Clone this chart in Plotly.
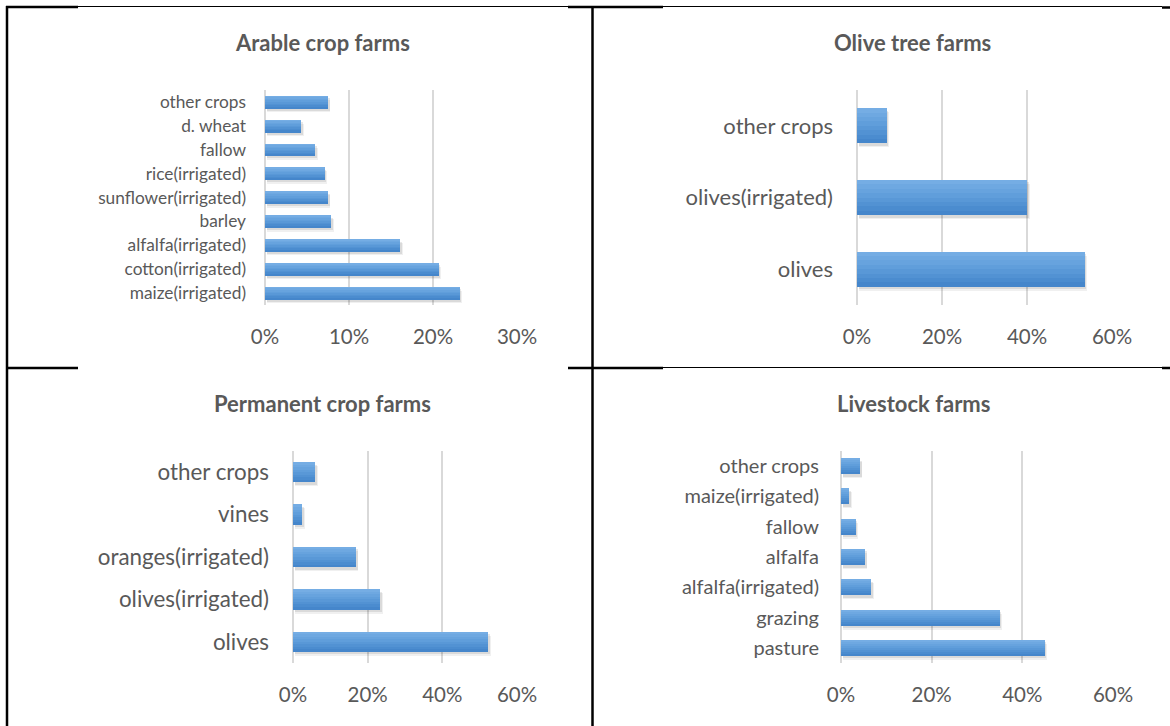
import plotly.graph_objects as go

# ---- data (categories listed bottom to top, values in %) ----
arable_cats = ["maize(irrigated)", "cotton(irrigated)", "alfalfa(irrigated)", "barley",
               "sunflower(irrigated)", "rice(irrigated)", "fallow", "d. wheat", "other crops"]
arable_vals = [23.2, 20.7, 16.1, 7.9, 7.5, 7.1, 6.0, 4.3, 7.5]
arable_ticks = [0, 10, 20, 30]
arable_ticktext = ["0%", "10%", "20%", "30%"]

olive_cats = ["olives", "olives(irrigated)", "other crops"]
olive_vals = [53.6, 40.1, 7.0]

perm_cats = ["olives", "olives(irrigated)", "oranges(irrigated)", "vines", "other crops"]
perm_vals = [52.3, 23.4, 16.9, 2.5, 6.0]

live_cats = ["pasture", "grazing", "alfalfa(irrigated)", "alfalfa", "fallow",
             "maize(irrigated)", "other crops"]
live_vals = [44.9, 35.0, 6.7, 5.3, 3.3, 1.8, 4.2]

wide_ticks = [0, 20, 40, 60]
wide_ticktext = ["0%", "20%", "40%", "60%"]

W, H = 1170, 726
FONT = "Lato"
GREY = "#595959"
GRID = "#d9d9d9"


def px(x):
    return x / W


def py(y):
    return 1 - y / H


# vertical gradient of the bar fill, top (light) to bottom (dark)
BANDS = ["#75ade4", "#6ea8e1", "#67a3de", "#609edb", "#5998d7",
         "#5292d3", "#4b8ccf", "#4586cb"]

panels = [
    dict(title="Arable crop farms", cats=arable_cats, vals=arable_vals,
         ticks=arable_ticks, ticktext=arable_ticktext, xr=[0, 30],
         x0=265, x1=517, y0=90, y1=305, cat_size=17.3, cat_gap=18, width=0.52,
         tx=322.5, ty=43),
    dict(title="Olive tree farms", cats=olive_cats, vals=olive_vals,
         ticks=wide_ticks, ticktext=wide_ticktext, xr=[0, 60],
         x0=857, x1=1112, y0=90, y1=305, cat_size=22, cat_gap=23, width=0.49,
         tx=912.5, ty=43),
    dict(title="Permanent crop farms", cats=perm_cats, vals=perm_vals,
         ticks=wide_ticks, ticktext=wide_ticktext, xr=[0, 60],
         x0=293, x1=517, y0=451, y1=663, cat_size=22.4, cat_gap=23, width=0.48,
         tx=322.5, ty=403),
    dict(title="Livestock farms", cats=live_cats, vals=live_vals,
         ticks=wide_ticks, ticktext=wide_ticktext, xr=[0, 60],
         x0=841, x1=1113, y0=451, y1=663, cat_size=20, cat_gap=21, width=0.53,
         tx=913.5, ty=403),
]

fig = go.Figure()
annotations = []

for i, p in enumerate(panels, start=1):
    xa = "x" if i == 1 else f"x{i}"
    ya = "y" if i == 1 else f"y{i}"
    w = p["width"]
    n = len(p["cats"])
    unit_px = (p["y1"] - p["y0"]) / n          # pixels per category
    xunit_px = (p["x1"] - p["x0"]) / (p["xr"][1] - p["xr"][0])

    # soft drop shadow below / right of each bar
    for shift, alpha in [(4.0, 0.06), (2.5, 0.09)]:
        fig.add_trace(go.Bar(
            y=p["cats"], x=p["vals"], base=shift * 0.6 / xunit_px, orientation="h",
            width=w, offset=-w / 2 - shift / unit_px,
            marker=dict(color=f"rgba(0,0,0,{alpha})", line=dict(width=0)),
            xaxis=xa, yaxis=ya, showlegend=False, hoverinfo="skip"))

    # gradient bar: each layer covers from its top edge down to the bar bottom
    nb = len(BANDS)
    for k, col in enumerate(BANDS):
        fig.add_trace(go.Bar(
            y=p["cats"], x=p["vals"], orientation="h",
            width=w * (nb - k) / nb, offset=-w / 2,
            marker=dict(color=col, line=dict(width=0)),
            xaxis=xa, yaxis=ya, showlegend=False,
            hovertemplate="%{y}: %{x:.1f}%<extra></extra>"))

    fig.layout[f"xaxis{'' if i == 1 else i}"] = dict(
        domain=[px(p["x0"]), px(p["x1"])], anchor=ya, range=p["xr"],
        tickvals=p["ticks"], ticktext=p["ticktext"],
        showgrid=True, gridcolor=GRID, gridwidth=1.5,
        zeroline=True, zerolinecolor=GRID, zerolinewidth=1.5,
        showline=False, ticks="", ticklabelstandoff=17, automargin=False,
        tickfont=dict(family=FONT, size=20.5, color=GREY), fixedrange=True)
    fig.layout[f"yaxis{'' if i == 1 else i}"] = dict(
        domain=[py(p["y1"]), py(p["y0"])], anchor=xa, type="category",
        categoryorder="array", categoryarray=p["cats"],
        range=[-0.5, n - 0.5], automargin=False,
        showgrid=False, zeroline=False, showline=False, ticks="",
        ticklabelstandoff=p["cat_gap"],
        tickfont=dict(family=FONT, size=p["cat_size"], color=GREY), fixedrange=True)

    annotations.append(dict(
        text=f"<b>{p['title']}</b>", x=px(p["tx"]), y=py(p["ty"]),
        xref="paper", yref="paper", xanchor="center", yanchor="middle",
        showarrow=False, font=dict(family=FONT, size=22, color=GREY)))

# table rules framing the four charts
def rule(x0, y0, x1, y1, width):
    return dict(type="line", xref="paper", yref="paper",
                x0=px(x0), y0=py(y0), x1=px(x1), y1=py(y1),
                line=dict(color="black", width=width), layer="above")

shapes = [
    rule(78, 6.5, 1162, 6.5, 1),
    rule(663, 367.5, 1162, 367.5, 1),
    rule(6, 7, 78, 7, 2.5), rule(568, 7, 663, 7, 2.5), rule(1162, 7.5, 1170, 7.5, 2.5),
    rule(6, 368, 78, 368, 2.5), rule(568, 368, 663, 368, 2.5), rule(1162, 368, 1170, 368, 2.5),
    rule(7, 6, 7, 726, 2.5),
    rule(592.5, 6, 592.5, 726, 2.5),
]

fig.update_layout(
    width=W, height=H,
    margin=dict(l=0, r=0, t=0, b=0, pad=0, autoexpand=False),
    paper_bgcolor="white", plot_bgcolor="rgba(0,0,0,0)",
    barmode="overlay", bargap=0,
    annotations=annotations, shapes=shapes,
    font=dict(family=FONT, color=GREY),
)

fig.write_html("out.html")
